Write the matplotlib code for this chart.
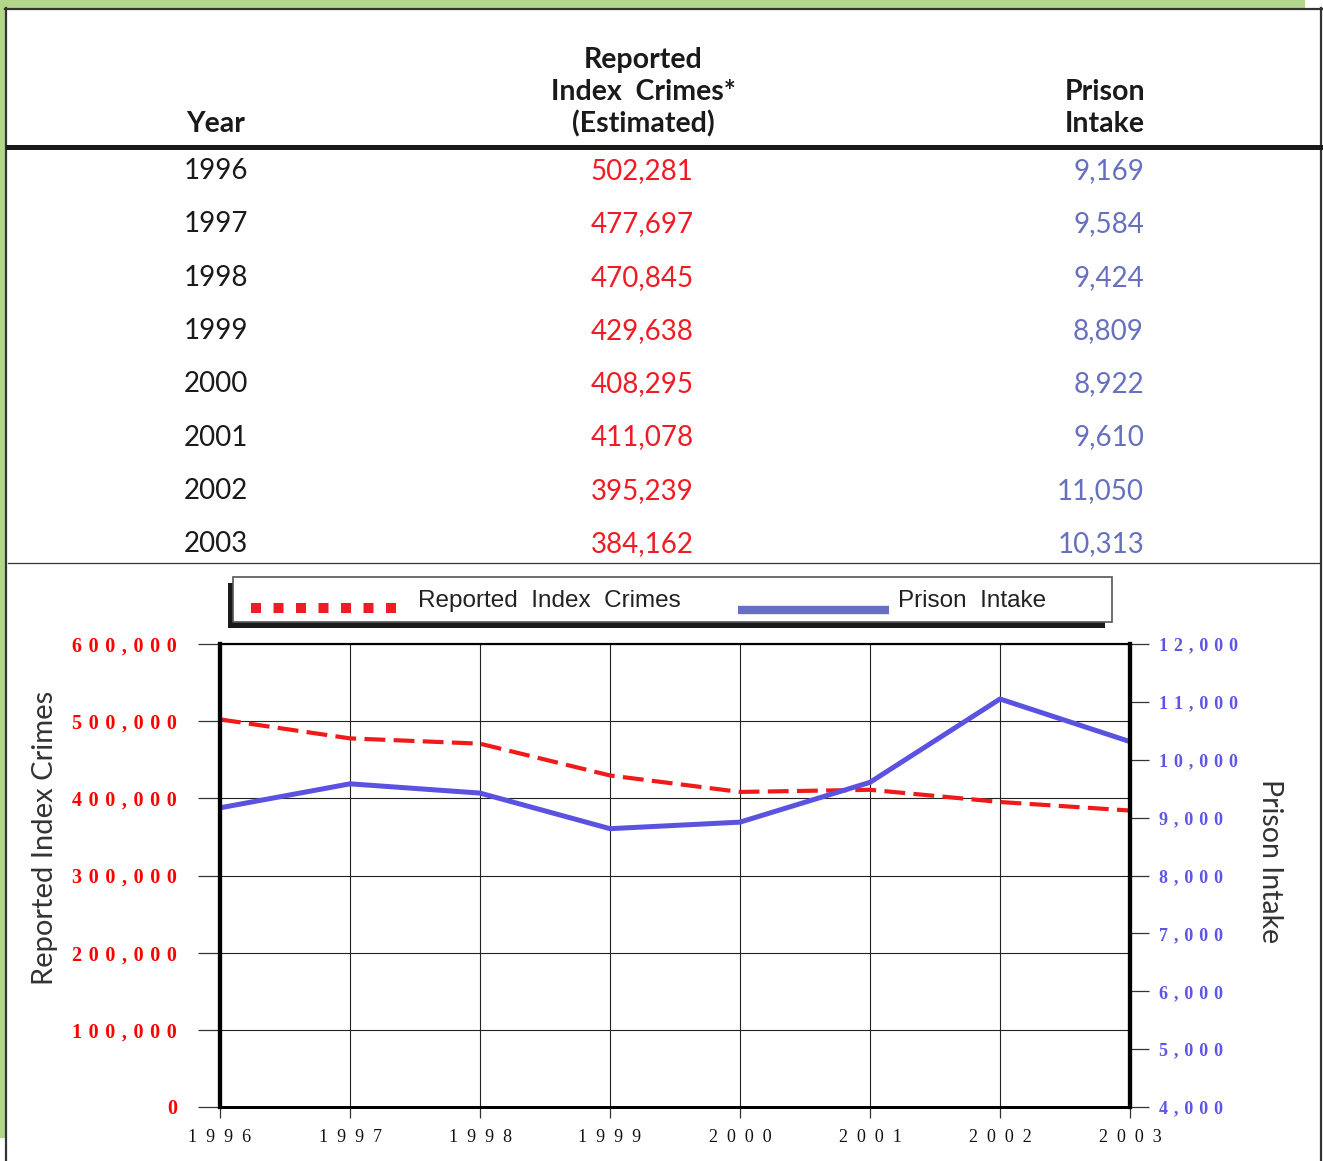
import matplotlib
matplotlib.use("Agg")
import matplotlib.pyplot as plt
from matplotlib.lines import Line2D
from matplotlib.patches import Rectangle

# dados
years = [1996, 1997, 1998, 1999, 2000, 2001, 2002, 2003]
crimes = [502281, 477697, 470845, 429638, 408295, 411078, 395239, 384162]
intake = [9169, 9584, 9424, 8809, 8922, 9610, 11050, 10313]
left_ticks = [0, 100000, 200000, 300000, 400000, 500000, 600000]
right_ticks = [4000, 5000, 6000, 7000, 8000, 9000, 10000, 11000, 12000]

RED = '#ee1c25'
BLUE = '#5b52e0'
TBL_BLUE = '#6670bf'

W, H = 1323, 1161
fig = plt.figure(figsize=(W / 100, H / 100), dpi=100)
fig.patch.set_facecolor('white')


def fx(x):
    return x / W


def fy(y):
    return 1 - y / H


def spaced(s, sep=' '):
    return sep.join(list(s))


# moldura verde + borda do painel
fig.add_artist(Rectangle((0, fy(8)), fx(1305), 8 / H, transform=fig.transFigure,
                         color='#b1d78a', lw=0, zorder=0))
fig.add_artist(Rectangle((0, fy(1138)), fx(5), 1130 / H, transform=fig.transFigure,
                         color='#b1d78a', lw=0, zorder=0))
for xs, ys in [([5.5, 5.5], [8, H]), ([5, 1322], [8.5, 8.5]), ([1321, 1321], [8, H])]:
    fig.add_artist(Line2D([fx(v) for v in xs], [fy(v) for v in ys],
                          transform=fig.transFigure, color='#333333', lw=1.6))

# === Tabela ===
hdr = dict(fontfamily='Lato', fontweight='bold', fontsize=20.5, color='#1a1a1a',
           ha='center', va='center')
fig.text(fx(216), fy(124), 'Year', **hdr)
fig.text(fx(643), fy(60), 'Reported', **hdr)
fig.text(fx(643), fy(92), 'Index  Crimes*', **hdr)
fig.text(fx(643), fy(124), '(Estimated)', **hdr)
fig.text(fx(1105), fy(92), 'Prison', **hdr)
fig.text(fx(1105), fy(124), 'Intake', **hdr)

fig.add_artist(Line2D([fx(8), fx(1320)], [fy(147), fy(147)],
                      transform=fig.transFigure, color='#1a1a1a', lw=3.6))
fig.add_artist(Line2D([fx(8), fx(1320)], [fy(563), fy(563)],
                      transform=fig.transFigure, color='#333333', lw=0.9))

for i, (yr, c, p) in enumerate(zip(years, crimes, intake)):
    yy = fy(171 + i * 53.3)
    fig.text(fx(216), yy, str(yr), fontfamily='Lato', fontsize=20,
             color='#1a1a1a', ha='center', va='center')
    fig.text(fx(642), yy, f'{c:,}', fontfamily='Lato', fontsize=20,
             color=RED, ha='center', va='center')
    fig.text(fx(1144), yy, f'{p:,}', fontfamily='Lato', fontsize=20,
             color=TBL_BLUE, ha='right', va='center')

# === Legenda ===
fig.add_artist(Rectangle((fx(228), fy(628)), fx(877), 45 / H, transform=fig.transFigure,
                         facecolor='#1a1a1a', lw=0, zorder=2))
fig.add_artist(Rectangle((fx(233), fy(622)), fx(879), 45 / H, transform=fig.transFigure,
                         facecolor='white', edgecolor='#555555', lw=1.2, zorder=3))
fig.add_artist(Line2D([fx(251), fx(404)], [fy(608), fy(608)], transform=fig.transFigure,
                      color=RED, lw=7.2, dashes=(1, 1.25), solid_capstyle='butt',
                      dash_capstyle='butt', zorder=4))
fig.text(fx(418), fy(601), 'Reported  Index  Crimes', fontfamily='Liberation Sans',
         fontsize=17.5, color='#222222', ha='left', va='center', zorder=4)
fig.add_artist(Line2D([fx(738), fx(889)], [fy(610), fy(610)], transform=fig.transFigure,
                      color=TBL_BLUE, lw=6, solid_capstyle='butt', zorder=4))
fig.text(fx(898), fy(601), 'Prison  Intake', fontfamily='Liberation Sans',
         fontsize=17.5, color='#222222', ha='left', va='center', zorder=4)

# === Gráfico ===
ax = fig.add_axes([fx(220), 1 - 1107 / H, (1130 - 220) / W, (1107 - 644) / H])
ax2 = ax.twinx()

ax.plot(years, crimes, color='#f01a1a', lw=3, dashes=(5, 2), dash_capstyle='butt')
ax2.plot(years, intake, color=BLUE, lw=3.6, solid_capstyle='butt')

ax.set_xlim(1996, 2003)
ax.set_ylim(0, 600000)
ax2.set_ylim(4000, 12000)

ax.set_xticks(years)
ax.set_xticklabels([spaced(str(y), '  ') for y in years], fontfamily='Liberation Serif',
                   fontsize=13, color='#111111')
ax.set_yticks(left_ticks)
ax.set_yticklabels([spaced(f'{v:,}', ' \u200a') for v in left_ticks],
                   fontfamily='Liberation Serif', fontweight='bold', fontsize=14.5,
                   color='#ff0000')
ax2.set_yticks(right_ticks)
ax2.set_yticklabels([spaced(f'{v:,}', ' \u200a') for v in right_ticks],
                    fontfamily='Liberation Serif', fontweight='bold', fontsize=13,
                    color='#5f55e6')

ax.tick_params(axis='y', length=16, width=0.9, pad=15, color='#333333')
ax.tick_params(axis='x', length=8, width=0.9, pad=8, color='#333333')
ax2.tick_params(axis='y', length=14, width=0.9, pad=7, color='#333333')

ax.grid(True, color='#222222', lw=0.8)
ax.set_axisbelow(True)

for a in (ax, ax2):
    a.spines['left'].set_linewidth(3)
    a.spines['right'].set_linewidth(3)
    a.spines['top'].set_linewidth(1.5)
    a.spines['bottom'].set_linewidth(2)

fig.text(fx(45), fy(838), 'Reported Index Crimes', fontfamily='Lato', fontsize=21,
         color='#333333', rotation=90, ha='center', va='center')
fig.text(fx(1270), fy(861), 'Prison Intake', fontfamily='Lato', fontsize=20.5,
         color='#333333', rotation=270, ha='center', va='center')

fig.savefig('out.png', dpi=100)
